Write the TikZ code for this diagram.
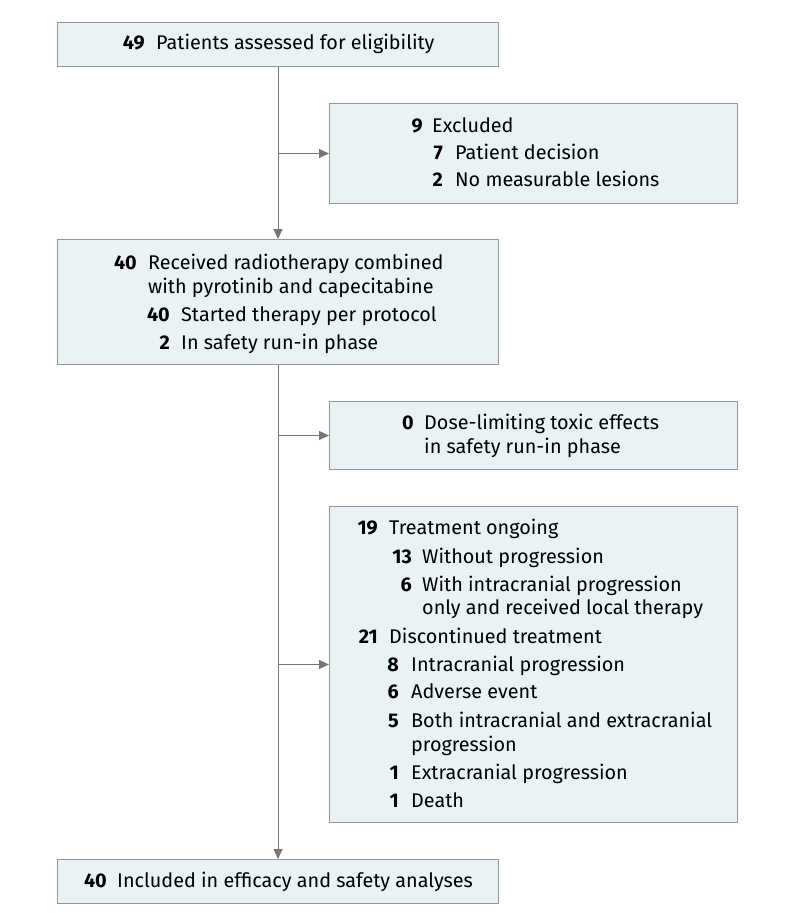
\documentclass[tikz,border=0pt]{standalone}
\usepackage{fontspec}
\setmainfont{Fira Sans}
\usetikzlibrary{arrows.meta}

\definecolor{boxfill}{RGB}{233,243,245}
\definecolor{boxrule}{RGB}{150,150,150}
\definecolor{flowgray}{RGB}{118,118,118}

\newcommand\flowfont{\fontsize{19.8}{24}\selectfont}

\tikzset{
  box/.style={draw=boxrule, fill=boxfill, line width=1pt, anchor=north west, inner sep=0pt},
  num/.style={anchor=base east, inner sep=0pt, font=\flowfont\bfseries},
  txt/.style={anchor=base west, inner sep=0pt, font=\flowfont},
  flow/.style={draw=flowgray, line width=1pt, -{Triangle[length=10pt,width=9pt]}},
}

\begin{document}
\begin{tikzpicture}[x=1pt,y=-1pt]
  \useasboundingbox (0,0) rectangle (794,923);

  % boxes
  \node[box, minimum width=441pt, minimum height=44pt]  (elig) at (57,22)  {};
  \node[box, minimum width=408pt, minimum height=100pt] (excl) at (329,103) {};
  \node[box, minimum width=441pt, minimum height=125pt] (recv) at (57,239) {};
  \node[box, minimum width=408pt, minimum height=68pt]  (dlt)  at (329,401) {};
  \node[box, minimum width=408pt, minimum height=316pt] (trt)  at (329,506) {};
  \node[box, minimum width=441pt, minimum height=44pt]  (incl) at (57,859) {};

  % connectors
  \draw[flow] (elig.south) -- (recv.north);
  \draw[flow] (elig.south |- excl.west) -- (excl.west);
  \draw[flow] (recv.south) -- (incl.north);
  \draw[flow] (recv.south |- dlt.west) -- (dlt.west);
  \draw[flow] (recv.south |- trt.west) -- (trt.west);

  % assessed
  \node[num] (eligN) at (145,50) {49};
  \node[txt] (eligT) at (156,50) {Patients assessed for eligibility};

  % excluded
  \node[num] (exclN)  at (423,132) {9};
  \node[txt] (exclT)  at (432,132) {Excluded};
  \node[num] (decN)   at (443,159) {7};
  \node[txt] (decT)   at (455,159) {Patient decision};
  \node[num] (lesN)   at (443,186) {2};
  \node[txt] (lesT)   at (455,186) {No measurable lesions};

  % received therapy
  \node[num] (recvN)  at (137,269) {40};
  \node[txt] (recvT)  at (148,269) {Received radiotherapy combined};
  \node[txt] (recvT2) at (148,293) {with pyrotinib and capecitabine};
  \node[num] (protN)  at (170,321) {40};
  \node[txt] (protT)  at (181,321) {Started therapy per protocol};
  \node[num] (runN)   at (170,349) {2};
  \node[txt] (runT)   at (181,349) {In safety run-in phase};

  % dose-limiting
  \node[num] (dltN)   at (414,429) {0};
  \node[txt] (dltT)   at (424,429) {Dose-limiting toxic effects};
  \node[txt] (dltT2)  at (424,453) {in safety run-in phase};

  % treatment
  \node[num] (ongN)   at (378,534) {19};
  \node[txt] (ongT)   at (389,534) {Treatment ongoing};
  \node[num] (woN)    at (412,563) {13};
  \node[txt] (woT)    at (422,563) {Without progression};
  \node[num] (wiN)    at (412,591) {6};
  \node[txt] (wiT)    at (422,591) {With intracranial progression};
  \node[txt] (wiT2)   at (422,614) {only and received local therapy};
  \node[num] (discN)  at (378,643) {21};
  \node[txt] (discT)  at (389,643) {Discontinued treatment};
  \node[num] (intraN) at (399,671) {8};
  \node[txt] (intraT) at (411,671) {Intracranial progression};
  \node[num] (aeN)    at (399,698) {6};
  \node[txt] (aeT)    at (411,698) {Adverse event};
  \node[num] (bothN)  at (399,727) {5};
  \node[txt] (bothT)  at (411,727) {Both intracranial and extracranial};
  \node[txt] (bothT2) at (411,751) {progression};
  \node[num] (extraN) at (399,779) {1};
  \node[txt] (extraT) at (411,779) {Extracranial progression};
  \node[num] (deathN) at (399,807) {1};
  \node[txt] (deathT) at (411,807) {Death};

  % included
  \node[num] (inclN)  at (107,887) {40};
  \node[txt] (inclT)  at (117,887) {Included in efficacy and safety analyses};
\end{tikzpicture}
\end{document}
